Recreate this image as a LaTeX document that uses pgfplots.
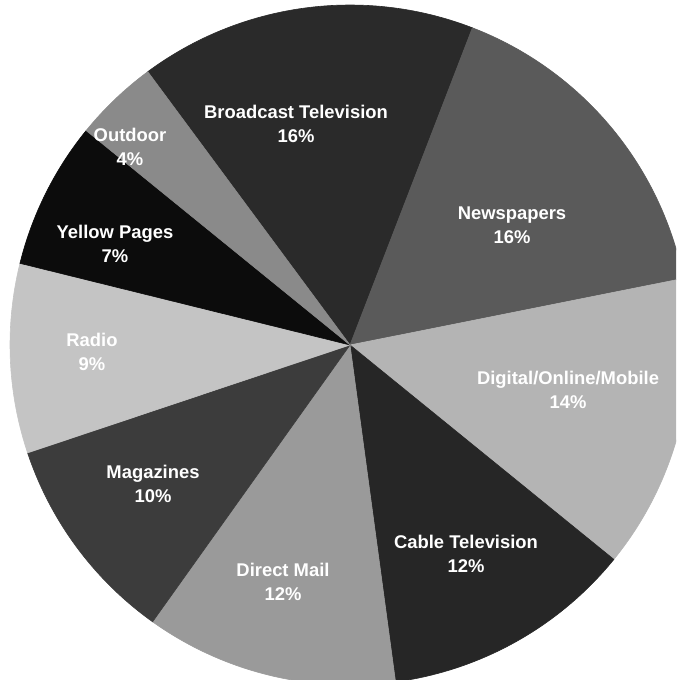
\documentclass[border=0pt]{standalone}
\usepackage{pgfplots}
\usepackage{pgfplotstable}
\pgfplotsset{compat=1.18}
\usepackage{fontspec}
\setmainfont{Liberation Sans}

\definecolor{c0}{HTML}{2A2A2A}
\definecolor{c1}{HTML}{5A5A5A}
\definecolor{c2}{HTML}{B4B4B4}
\definecolor{c3}{HTML}{262626}
\definecolor{c4}{HTML}{9A9A9A}
\definecolor{c5}{HTML}{3C3C3C}
\definecolor{c6}{HTML}{C4C4C4}
\definecolor{c7}{HTML}{0C0C0C}
\definecolor{c8}{HTML}{8A8A8A}

\pgfplotstableread[col sep=comma]{
label,value,lx,ly
Broadcast Television,16,-54,221
Newspapers,16,162,120
Digital/Online/Mobile,14,218,-45
Cable Television,12,116,-209
Direct Mail,12,-67,-237
Magazines,10,-197,-139
Radio,9,-258,-7
Yellow Pages,7,-235,101
Outdoor,4,-220,198
}\piedata

\begin{document}
\begin{tikzpicture}
\xdef\cum{126.5}
\pgfplotsforeachungrouped \i in {0,1,...,8}{%
  \pgfplotstablegetelem{\i}{value}\of\piedata
  \expandafter\xdef\csname val\i\endcsname{\pgfplotsretval}%
  \pgfmathsetmacro\b{\cum-3.6*\pgfplotsretval}%
  \expandafter\xdef\csname sa\i\endcsname{\cum}%
  \expandafter\xdef\csname ea\i\endcsname{\b}%
  \xdef\cum{\b}%
  \pgfplotstablegetelem{\i}{lx}\of\piedata
  \expandafter\xdef\csname lx\i\endcsname{\pgfplotsretval}%
  \pgfplotstablegetelem{\i}{ly}\of\piedata
  \expandafter\xdef\csname ly\i\endcsname{\pgfplotsretval}%
  \pgfplotstablegetelem{\i}{label}\of\piedata
  \expandafter\xdef\csname lab\i\endcsname{\pgfplotsretval}%
}
\begin{axis}[
  width=338pt, height=340pt, scale only axis,
  xmin=-350, xmax=326, ymin=-335, ymax=345,
  hide axis, clip=true,
]
\pgfplotsinvokeforeach{0,...,8}{%
  \fill[c#1, draw=c#1, line width=0.3pt]
    (axis cs:0,0) --
    (axis cs:{340*cos(\csname sa#1\endcsname)},{340*sin(\csname sa#1\endcsname)})
    arc[start angle=\csname sa#1\endcsname, end angle=\csname ea#1\endcsname, radius=170pt]
    -- cycle;
}
\pgfplotsinvokeforeach{0,...,8}{%
  \node[text=white, align=center, font=\bfseries\fontsize{9.2}{12}\selectfont, inner sep=0pt]
    at (axis cs:\csname lx#1\endcsname,\csname ly#1\endcsname)
    {\csname lab#1\endcsname\\\csname val#1\endcsname\%};
}
\end{axis}
\pgfresetboundingbox
\useasboundingbox (current axis.south west) rectangle (current axis.north east);
\end{tikzpicture}
\end{document}
